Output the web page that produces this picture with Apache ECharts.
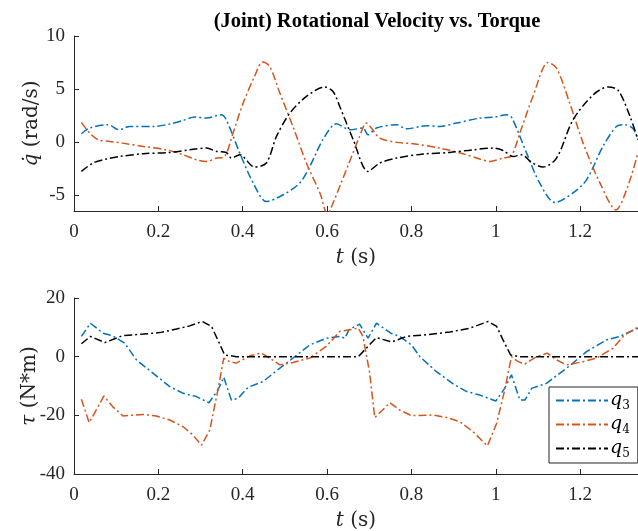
<!DOCTYPE html>
<html><head><meta charset="utf-8">
<script src="https://cdn.jsdelivr.net/npm/echarts@6/dist/echarts.min.js"></script>
<style>html,body{margin:0;padding:0;background:#fff}#c{width:638px;height:531px}</style>
</head><body><div id="c"></div>
<script>
const titleText = '(Joint) Rotational Velocity vs. Torque';
const xTicks = [0, 0.2, 0.4, 0.6, 0.8, 1, 1.2];
const velTicks = [-5, 0, 5, 10];
const torTicks = [-40, -20, 0, 20];
const seriesNames = ['q3', 'q4', 'q5'];

// Top: rotational velocity (rad/s)
const velT_q3 = [0.0175,0.037,0.081,0.107,0.132,0.187,0.227,0.259,0.286,0.314,0.349,0.361,0.393,0.425,0.456,0.496,0.535,0.559,0.590,0.622,0.654,0.685,0.697,0.717,0.765,0.788,0.836,0.867,0.907,0.962,0.998,1.025,1.037,1.073,1.104,1.140,1.183,1.215,1.254,1.286,1.306,1.326,1.337];
const velV_q3 = [0.78,1.32,1.63,1.16,1.47,1.47,1.7,2.04,2.36,2.26,2.57,2.1,-1.04,-3.87,-5.6,-4.97,-3.87,-2.3,0.22,1.73,1.16,1.32,0.69,1.32,1.63,1.25,1.54,1.47,1.79,2.26,2.36,2.57,2.36,-1.04,-3.87,-5.7,-4.8,-3.56,-0.41,1.47,1.63,1.23,0.22];
const velT_q4 = [0.0175,0.037,0.057,0.085,0.116,0.164,0.219,0.259,0.290,0.314,0.338,0.357,0.377,0.401,0.428,0.447,0.464,0.488,0.519,0.551,0.583,0.601,0.614,0.652,0.677,0.693,0.705,0.725,0.765,0.804,0.867,0.922,0.962,0.986,1.017,1.037,1.057,1.088,1.124,1.144,1.175,1.207,1.247,1.285,1.310,1.337];
const velV_q4 = [1.85,0.85,0.22,0.06,-0.1,-0.41,-0.73,-1.2,-1.67,-1.83,-1.51,-1.36,0.85,3.68,6.19,7.55,7.13,4.62,1.47,-1.98,-4.81,-6.8,-5.75,-1.98,0.53,1.79,1.32,0.38,-0.03,-0.16,-0.57,-1.1,-1.6,-1.83,-1.51,-1.29,0.85,4.3,7.51,6.98,3.68,-0.1,-3.87,-6.4,-4.5,-1.04];
const velT_q5 = [0.0175,0.045,0.077,0.108,0.164,0.227,0.274,0.314,0.338,0.361,0.373,0.393,0.428,0.456,0.480,0.512,0.551,0.594,0.614,0.630,0.662,0.697,0.725,0.765,0.828,0.891,0.946,0.994,1.017,1.041,1.061,1.085,1.112,1.144,1.183,1.231,1.266,1.290,1.318,1.337];
const velV_q5 = [-2.77,-1.98,-1.6,-1.36,-1.1,-0.98,-0.73,-0.57,-0.88,-0.98,-1.51,-1.2,-2.36,-1.98,0.53,2.74,4.3,5.19,4.77,3.36,0.22,-2.77,-1.98,-1.51,-1.13,-0.98,-0.73,-0.57,-0.79,-1.36,-1.2,-1.92,-2.36,-1.51,2.1,4.46,5.19,4.87,2.42,0.22];

// Bottom: torque (N*m)
const torT_q3 = [0.0175,0.039,0.069,0.092,0.120,0.148,0.187,0.227,0.259,0.290,0.320,0.341,0.355,0.373,0.389,0.413,0.448,0.488,0.519,0.559,0.598,0.630,0.642,0.652,0.677,0.697,0.717,0.751,0.772,0.800,0.820,0.859,0.899,0.931,0.962,1.000,1.021,1.037,1.057,1.069,1.085,1.120,1.168,1.215,1.262,1.294,1.310,1.337];
const torV_q3 = [6.9,11.4,8.0,7.1,4.6,-1.1,-5.6,-10.2,-12.5,-13.6,-15.7,-11.4,-7.0,-14.8,-14.2,-10.4,-8.5,-3.9,-0.5,4.0,6.3,6.9,6.3,9.2,11.1,6.3,11.4,8.0,6.9,4.0,0,-5.1,-9.3,-11.9,-13.1,-15.1,-10.8,-6.2,-14.8,-14.8,-10.8,-9.1,-3.9,1.7,5.7,6.9,8.0,9.7];
const torT_q4 = [0.0175,0.036,0.071,0.092,0.116,0.164,0.195,0.227,0.259,0.282,0.302,0.322,0.341,0.355,0.369,0.385,0.417,0.444,0.464,0.488,0.519,0.559,0.598,0.630,0.674,0.685,0.701,0.713,0.749,0.772,0.800,0.851,0.883,0.915,0.946,0.980,1.002,1.021,1.037,1.053,1.069,1.096,1.122,1.144,1.168,1.207,1.239,1.278,1.306,1.337];
const torV_q4 = [-14.5,-22.5,-13.4,-17.1,-20.2,-19.7,-20.2,-21.6,-23.9,-26.7,-30.2,-25,-11.4,-0.5,-1.7,-2.2,0.3,1.2,-0.5,-2.8,-2.0,-0.5,3.5,8.6,9.7,6.9,-5.6,-20.8,-15.7,-18.2,-20.1,-19.9,-20.7,-22.2,-25.6,-30.4,-22.7,-11.4,0,-1.7,-2.5,0,1.2,-1.1,-2.8,-1.7,-0.5,2.9,7.5,10.1];
const torT_q5 = [0.0175,0.039,0.073,0.116,0.164,0.203,0.243,0.274,0.304,0.326,0.341,0.357,0.385,0.674,0.689,0.717,0.753,0.788,0.836,0.891,0.938,0.982,1.002,1.017,1.035,1.057,1.337];
const torV_q5 = [4.4,6.9,4.8,7.2,7.7,8.2,9.4,10.5,12.0,10.3,5.7,0.6,0,0,2.3,6.5,5.0,6.9,7.5,8.4,9.7,12.0,10.3,5.7,0.6,0,0];

const colors = ['#0072BD', '#D95319', '#000000'];
const FONT = 'Liberation Serif';
const TEXFONT = 'DejaVu Serif';
const AX = '#262626';

function pairs(ts, vs) { return ts.map((t, i) => [t, vs[i]]); }
function mk(name, ts, vs, idx, color, smooth) {
  return {
    name: name, type: 'line', xAxisIndex: idx, yAxisIndex: idx,
    data: pairs(ts, vs), symbol: 'none', smooth: smooth, clip: true,
    lineStyle: { color: color, width: 1.5, type: [8, 3, 2, 3] },
    itemStyle: { color: color }, z: 3
  };
}
function nameStyle(size) {
  return { fontFamily: TEXFONT, fontSize: size, color: AX,
    rich: { i: { fontFamily: TEXFONT, fontStyle: 'italic', fontSize: size, color: AX } } };
}

function xAxisCfg(idx) {
  return {
    type: 'value', gridIndex: idx, min: 0, max: 1.337,
    name: '{i|t} (s)', nameLocation: 'middle', nameGap: 37, nameMoveOverlap: false,
    nameTextStyle: nameStyle(20),
    axisLine: { show: true, onZero: false, lineStyle: { color: AX, width: 1 } },
    axisTick: { show: true, inside: true, length: 5, customValues: xTicks, lineStyle: { color: AX } },
    axisLabel: { customValues: xTicks, margin: 12, fontFamily: FONT, fontSize: 19, color: AX, formatter: v => String(+v.toFixed(2)) },
    splitLine: { show: false }
  };
}

const option = {
  animation: false,
  backgroundColor: '#fff',
  title: {
    text: titleText, left: 372, top: 6, textAlign: 'center',
    textStyle: { fontFamily: FONT, fontWeight: 'bold', fontSize: 20.5, color: '#000' }
  },
  grid: [
    { left: 74, right: 0, top: 36, height: 175, outerBoundsMode: 'none', containLabel: false },
    { left: 74, right: 0, top: 298, height: 176, outerBoundsMode: 'none', containLabel: false }
  ],
  xAxis: [xAxisCfg(0), xAxisCfg(1)],
  yAxis: [
    {
      type: 'value', gridIndex: 0, min: -6.5, max: 10,
      name: '{i|q\u0307} (rad/s)', nameLocation: 'middle', nameGap: 32, nameMoveOverlap: false,
      nameTextStyle: nameStyle(20),
      axisLine: { show: true, lineStyle: { color: AX, width: 1 } },
      axisTick: { show: true, inside: true, length: 5, customValues: velTicks, lineStyle: { color: AX } },
      axisLabel: { customValues: velTicks, margin: 9, fontFamily: FONT, fontSize: 19, color: AX },
      splitLine: { show: false }
    },
    {
      type: 'value', gridIndex: 1, min: -40, max: 20, interval: 20,
      name: '{i|\u03C4} (N*m)', nameLocation: 'middle', nameGap: 34, nameMoveOverlap: false,
      nameTextStyle: nameStyle(20),
      axisLine: { show: true, lineStyle: { color: AX, width: 1 } },
      axisTick: { show: true, inside: true, length: 5, lineStyle: { color: AX } },
      axisLabel: { margin: 9, fontFamily: FONT, fontSize: 19, color: AX },
      splitLine: { show: false }
    }
  ],
  legend: {
    data: seriesNames, orient: 'vertical', left: 549, top: 387,
    backgroundColor: '#fff', borderColor: AX, borderWidth: 1, borderRadius: 0,
    padding: [4, 8, 3, 6], itemGap: 3, itemWidth: 52, itemHeight: 23,
    itemStyle: { opacity: 0 },
    formatter: n => '{q|q}{s|' + n.slice(1) + '}',
    textStyle: {
      color: '#000', padding: [0, 0, 0, -3],
      rich: {
        q: { fontFamily: TEXFONT, fontStyle: 'italic', fontSize: 19, lineHeight: 23, color: '#000' },
        s: { fontFamily: TEXFONT, fontSize: 12, verticalAlign: 'bottom', lineHeight: 14, padding: [7, 0, 0, 0], color: '#000' }
      }
    }
  },
  series: [
    mk('q3', velT_q3, velV_q3, 0, colors[0], 0.3),
    mk('q4', velT_q4, velV_q4, 0, colors[1], 0.3),
    mk('q5', velT_q5, velV_q5, 0, colors[2], 0.3),
    mk('q3', torT_q3, torV_q3, 1, colors[0], false),
    mk('q4', torT_q4, torV_q4, 1, colors[1], false),
    mk('q5', torT_q5, torV_q5, 1, colors[2], false)
  ]
};
const chart = echarts.init(document.getElementById('c'), null, { renderer: 'canvas' });
chart.setOption(option);
</script></body></html>
